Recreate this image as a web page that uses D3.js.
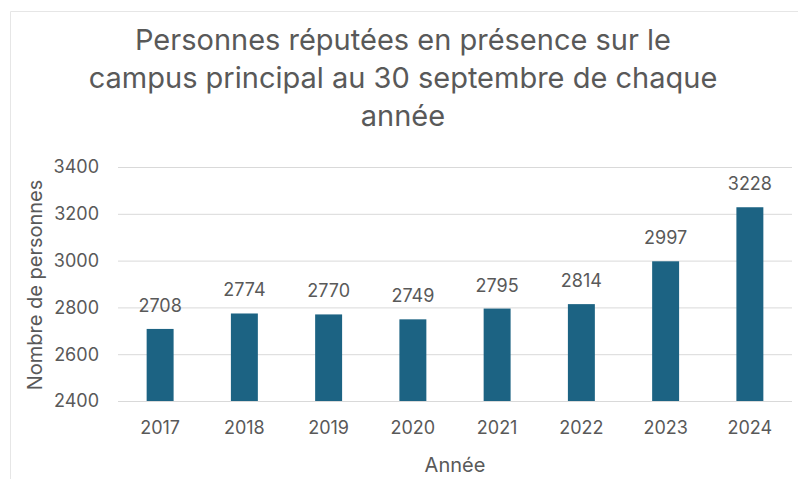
<!DOCTYPE html>
<html>
<head>
<meta charset="utf-8">
<script src="https://cdn.jsdelivr.net/npm/d3@7"></script>
<style>
  body { margin: 0; background: #fff; }
  text { font-family: Inter, "Liberation Sans", sans-serif; fill: #595959; }
  .grid line { stroke: #d9d9d9; }
  .grid path { display: none; }
</style>
</head>
<body>
<div id="chart"></div>
<script>
(function(){
  'use strict';

  // data
  var years = ['2017', '2018', '2019', '2020', '2021', '2022', '2023', '2024'];
  var counts = [2708, 2774, 2770, 2749, 2795, 2814, 2997, 3228];
  var yTicks = [2400, 2600, 2800, 3000, 3200, 3400];
  var titleLines = ['Personnes réputées en présence sur le',
                    'campus principal au 30 septembre de chaque',
                    'année'];

  var w = 798, h = 479;
  var svg = d3.select('#chart').append('svg')
    .attr('width', w)
    .attr('height', h);

  // faint frame
  svg.append('path')
    .attr('d', 'M10.5,' + h + 'V11.5H' + w)
    .attr('fill', 'none')
    .attr('stroke', '#e6e6e6');

  var x = d3.scaleBand()
    .domain(years)
    .range([118, 792])
    .paddingInner(0.68)
    .paddingOuter(0.34);

  var y = d3.scaleLinear()
    .domain([2400, 3400])
    .range([401, 167]);

  // gridlines
  svg.append('g')
    .attr('class', 'grid')
    .attr('transform', 'translate(118,0)')
    .call(d3.axisRight(y).tickValues(yTicks).tickSize(792 - 118).tickFormat(''));

  // y tick labels
  svg.selectAll('.ylab')
    .data(yTicks)
    .enter()
    .append('text')
    .attr('class', 'ylab')
    .attr('x', 99)
    .attr('y', function(d) { return y(d); })
    .attr('dy', '0.35em')
    .attr('text-anchor', 'end')
    .style('font-size', '18px')
    .text(function(d) { return d; });

  // bars
  svg.selectAll('.bar')
    .data(counts)
    .enter()
    .append('rect')
    .attr('class', 'bar')
    .attr('x', function(d, i) { return x(years[i]); })
    .attr('width', x.bandwidth())
    .attr('y', function(d) { return y(d); })
    .attr('height', function(d) { return y(2400) - y(d); })
    .attr('fill', '#1c6383');

  // value labels
  svg.selectAll('.val')
    .data(counts)
    .enter()
    .append('text')
    .attr('class', 'val')
    .attr('x', function(d, i) { return x(years[i]) + x.bandwidth() / 2; })
    .attr('y', function(d) { return y(d) - 17; })
    .attr('text-anchor', 'middle')
    .style('font-size', '18px')
    .text(function(d) { return d; });

  // baseline
  svg.append('line')
    .attr('x1', 118).attr('x2', 792)
    .attr('y1', y(2400) + 0.5).attr('y2', y(2400) + 0.5)
    .attr('stroke', '#d9d9d9');

  // x labels
  svg.selectAll('.xlab')
    .data(years)
    .enter()
    .append('text')
    .attr('class', 'xlab')
    .attr('x', function(d) { return x(d) + x.bandwidth() / 2; })
    .attr('y', 434)
    .attr('text-anchor', 'middle')
    .style('font-size', '18px')
    .text(function(d) { return d; });

  // axis titles
  svg.append('text')
    .attr('x', 455)
    .attr('y', 472)
    .attr('text-anchor', 'middle')
    .style('font-size', '20px')
    .text('Année');

  svg.append('text')
    .attr('transform', 'translate(42,285) rotate(-90)')
    .attr('text-anchor', 'middle')
    .style('font-size', '20px')
    .text('Nombre de personnes');

  // title
  svg.selectAll('.title')
    .data(titleLines)
    .enter()
    .append('text')
    .attr('class', 'title')
    .attr('x', 403)
    .attr('y', function(d, i) { return 50 + i * 38; })
    .attr('text-anchor', 'middle')
    .style('font-size', '29px')
    .text(function(d) { return d; });

}());
</script>
</body>
</html>
